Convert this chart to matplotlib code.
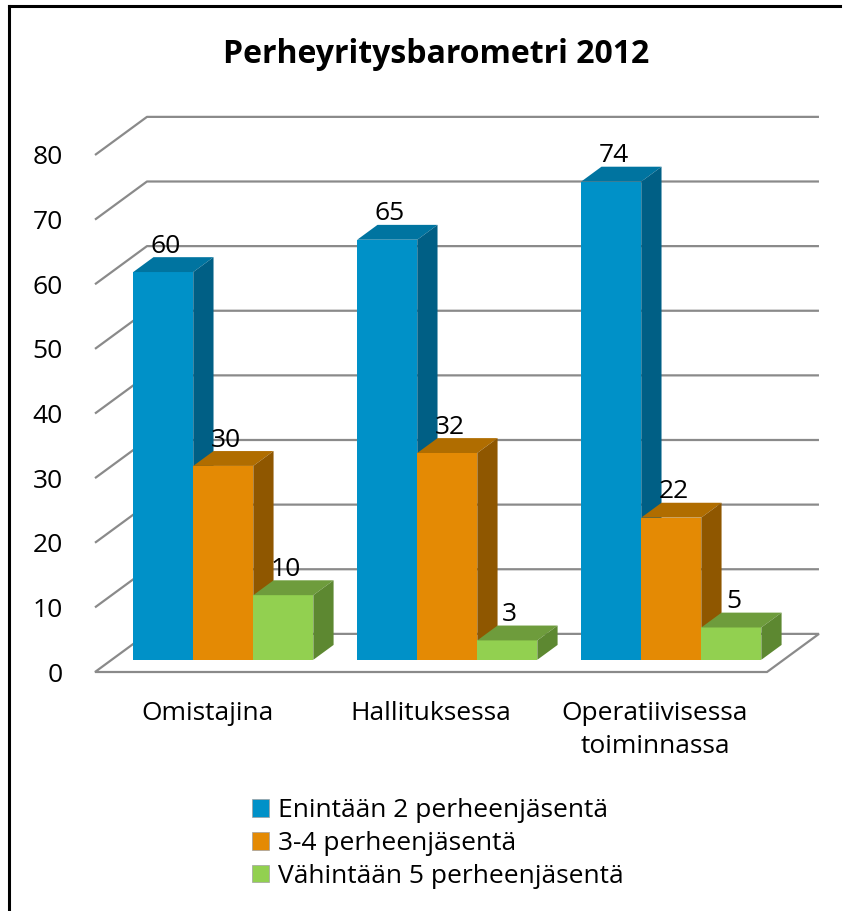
import numpy as np
import matplotlib
matplotlib.use("Agg")
import matplotlib.pyplot as plt
from matplotlib.patches import Polygon, Patch
from matplotlib.lines import Line2D

plt.rcParams['font.family'] = ['Open Sans', 'DejaVu Sans']

# Data
categories = ['Omistajina', 'Hallituksessa', 'Operatiivisessa\ntoiminnassa']
series_names = ['Enintään 2 perheenjäsentä', '3-4 perheenjäsentä',
                'Vähintään 5 perheenjäsentä']
enintaan2 = [60, 65, 74]
kolme_nelja = [30, 32, 22]
vahintaan5 = [10, 3, 5]
y_ticks = [0, 10, 20, 30, 40, 50, 60, 70, 80]
title = 'Perheyritysbarometri 2012'

# colours: front, top, side
front_cols = ['#0091c8', '#e48a04', '#92d050']
top_cols = ['#0074a0', '#b06d00', '#6e9c3c']
side_cols = ['#005f85', '#8f5700', '#5d8831']
grid_col = '#8a8a8a'

# fake 3d geometry (data units)
depth_x = 0.232   # category units
depth_y = 5.9     # value units
f0, f1 = 0.32, 0.71   # bar front / back depth fraction
bar_w = 0.268
gap = 0.0964

fig = plt.figure(figsize=(8.46, 9.11), dpi=100)
ax = fig.add_axes([95/846, (911-672)/911, 672/846, (672-155)/911])
ax.set_xlim(0, 3)
ax.set_ylim(0, 80)
for s in ax.spines.values():
    s.set_visible(False)

# back wall gridlines + floor
for v in y_ticks[1:]:
    ax.plot([0, depth_x, 3 + depth_x], [v, v + depth_y, v + depth_y],
            color=grid_col, lw=1.6, clip_on=False, zorder=1,
            solid_capstyle='butt')
floor = Polygon([(0, 0), (depth_x, depth_y), (3 + depth_x, depth_y), (3, 0)],
                closed=True, fill=False, edgecolor=grid_col, lw=1.6,
                clip_on=False, zorder=1)
ax.add_patch(floor)

series = [enintaan2, kolme_nelja, vahintaan5]
ddx = (f1 - f0) * depth_x
ddy = (f1 - f0) * depth_y
bot = f0 * depth_y
z = 2
for ci in range(len(categories)):
    for si, vals in enumerate(series):
        v = vals[ci]
        xl = ci + f0 * depth_x + gap + si * bar_w
        top = bot + v
        ax.bar(xl, v, bottom=bot, width=bar_w, align='edge',
               color=front_cols[si], lw=0, clip_on=False, zorder=z)
        ax.add_patch(Polygon([(xl, top), (xl + bar_w, top),
                              (xl + bar_w + ddx, top + ddy), (xl + ddx, top + ddy)],
                             closed=True, facecolor=top_cols[si], lw=0,
                             clip_on=False, zorder=z))
        ax.add_patch(Polygon([(xl + bar_w, bot), (xl + bar_w + ddx, bot + ddy),
                              (xl + bar_w + ddx, top + ddy), (xl + bar_w, top)],
                             closed=True, facecolor=side_cols[si], lw=0,
                             clip_on=False, zorder=z))
        ax.text(xl + bar_w / 2 + 0.01, top + ddy + 0.7, str(v), ha='center',
                va='baseline', fontsize=19, color='black', zorder=10)
        z += 1

ax.set_yticks(y_ticks)
ax.set_yticklabels([str(t) for t in y_ticks], fontsize=19)
ax.set_xticks([0.5, 1.5, 2.5])
ax.set_xticklabels(categories, fontsize=19, linespacing=1.4)
ax.tick_params(axis='y', length=0, pad=23)
ax.tick_params(axis='x', length=0, pad=21)

fig.text(436/846, 1 - 63/911, title, ha='center', va='baseline',
         fontsize=23, fontweight='bold')

handles = [Patch(facecolor=c, edgecolor='#a0a0a0', lw=0.5) for c in front_cols]
fig.legend(handles, series_names, loc='center left',
           bbox_to_anchor=(252/846, 1 - 843.5/911), frameon=False,
           fontsize=19, handlelength=0.65, handleheight=0.65,
           handletextpad=0.35, labelspacing=0.3, borderpad=0,
           borderaxespad=0)

# chart border (top + left)
fig.add_artist(Line2D([9/846, 9/846], [0, 1 - 5.5/911], color='black', lw=2.2))
fig.add_artist(Line2D([9/846, 840/846], [1 - 5.5/911, 1 - 5.5/911],
                      color='black', lw=2.2))

fig.savefig('out.png', dpi=100)
